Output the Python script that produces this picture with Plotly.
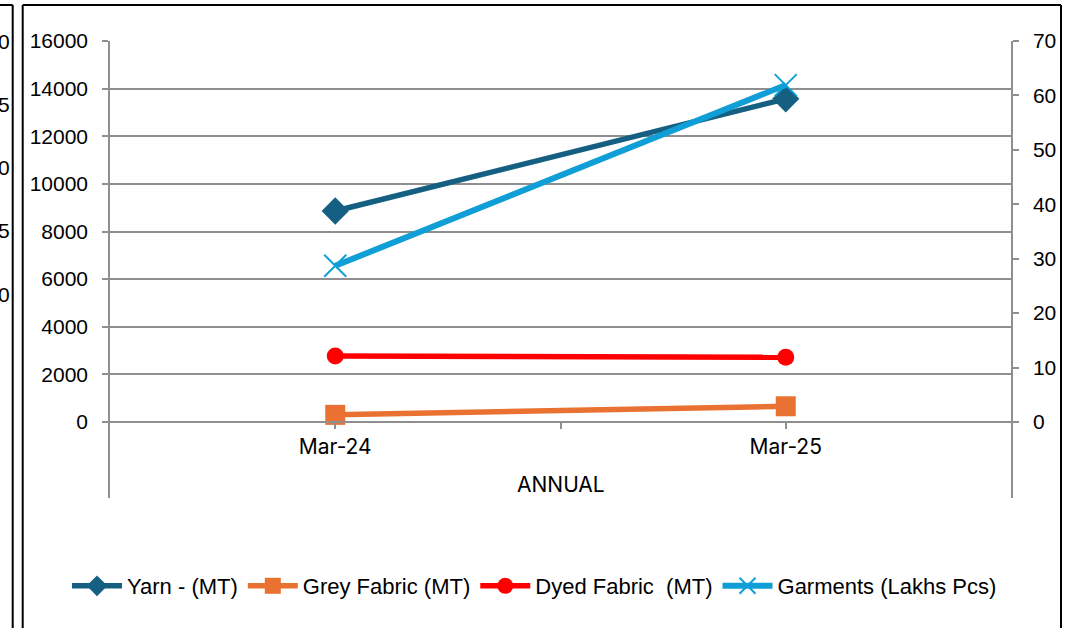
import plotly.graph_objects as go

# data
periods = ["Mar-24", "Mar-25"]
yarn_mt = [8860, 13570]
grey_fabric_mt = [300, 660]
dyed_fabric_mt = [2770, 2720]
garments_lakhs = [28.7, 61.9]

left_ticks = list(range(0, 16001, 2000))
right_ticks = list(range(0, 71, 10))
cut_off_labels = ["0", "5", "0", "5", "0"]  # last digits of a neighbouring chart's axis

GRID = "#8f8f8f"
FONT = "Liberation Sans"

# plot box in pixels: left 110, right 1011, top 41, bottom 498; zero line at 422
L, R, T, B = 110, 1011, 41, 498
ZERO_PX = 422
W, H = R - L, B - T
lo_left = -(B - ZERO_PX) / (ZERO_PX - T) * 16000
lo_right = lo_left * 70 / 16000

x = [0, 1]

fig = go.Figure()

fig.add_trace(go.Scatter(
    x=x, y=yarn_mt, name="Yarn - (MT)", mode="lines+markers",
    line=dict(color="#156082", width=5.5),
    marker=dict(symbol="diamond", size=21, color="#156082"),
))
fig.add_trace(go.Scatter(
    x=x, y=grey_fabric_mt, name="Grey Fabric (MT)", mode="lines+markers",
    line=dict(color="#E97132", width=5.5),
    marker=dict(symbol="square", size=20, color="#E97132"),
))
fig.add_trace(go.Scatter(
    x=x, y=dyed_fabric_mt, name="Dyed Fabric\u00a0 (MT)", mode="lines+markers",
    line=dict(color="#FF0000", width=5.5),
    marker=dict(symbol="circle", size=17, color="#FF0000"),
))
fig.add_trace(go.Scatter(
    x=x, y=garments_lakhs, name="Garments (Lakhs Pcs)", mode="lines+markers",
    yaxis="y2",
    line=dict(color="#0F9ED5", width=6),
    marker=dict(symbol="x-thin-open", size=22, color="#0F9ED5",
                line=dict(color="#0F9ED5", width=2)),
))

shapes = []
def px_x(p):
    return (p - L) / W

def px_y(p):
    return (B - p) / H

# outer frame lines of the screenshot
for xp in (12.7, 22.7, 1061):
    shapes.append(dict(type="line", xref="paper", yref="paper",
                       x0=px_x(xp), x1=px_x(xp), y0=px_y(5), y1=px_y(640),
                       line=dict(color="black", width=2)))
shapes.append(dict(type="line", xref="paper", yref="paper",
                   x0=px_x(-10), x1=px_x(12.7), y0=px_y(5), y1=px_y(5),
                   line=dict(color="black", width=2)))
shapes.append(dict(type="line", xref="paper", yref="paper",
                   x0=px_x(22.7), x1=px_x(1061), y0=px_y(5), y1=px_y(5),
                   line=dict(color="black", width=2)))

annotations = []
for i, txt in enumerate(cut_off_labels):
    annotations.append(dict(text=txt, xref="paper", yref="paper",
                            x=px_x(12), y=px_y(41 + i * 63.3),
                            xanchor="right", yanchor="middle", showarrow=False,
                            font=dict(family=FONT, size=21, color="black")))
annotations.append(dict(text="ANNUAL", xref="paper", yref="paper",
                        x=0.5, y=px_y(484), xanchor="center", yanchor="middle",
                        showarrow=False,
                        font=dict(family="Inter", size=21, color="black")))

fig.update_layout(
    width=1068, height=628,
    margin=dict(l=L, r=1068 - R, t=T, b=628 - B, autoexpand=False),
    paper_bgcolor="white",
    plot_bgcolor="white",
    font=dict(family=FONT, size=21, color="black"),
    showlegend=True,
    legend=dict(
        orientation="h",
        x=px_x(67), xanchor="left",
        y=px_y(586), yanchor="middle",
        font=dict(family=FONT, size=22, color="black"),
        itemwidth=50, tracegroupgap=0,
    ),
    xaxis=dict(
        range=[-0.5, 1.5],
        tickvals=[0, 0.5, 1], ticktext=[periods[0], "", periods[1]],
        anchor="free", position=px_y(ZERO_PX),
        showline=True, linecolor=GRID, linewidth=1.5,
        ticks="outside", ticklen=6, tickcolor=GRID, tickwidth=1.5,
        showgrid=False, zeroline=False,
        tickfont=dict(family="Inter", size=21),
    ),
    yaxis=dict(
        range=[lo_left, 16000], tickvals=left_ticks, tickformat="d",
        showgrid=True, gridcolor=GRID, gridwidth=1.5,
        showline=True, linecolor=GRID, linewidth=1.5,
        ticks="outside", ticklen=6, tickcolor=GRID, tickwidth=1.5,
        zeroline=False, ticklabelstandoff=10,
    ),
    yaxis2=dict(
        range=[lo_right, 70], tickvals=right_ticks, tickformat="d",
        overlaying="y", side="right",
        showgrid=False, zeroline=False,
        showline=True, linecolor=GRID, linewidth=1.5,
        ticks="outside", ticklen=6, tickcolor=GRID, tickwidth=1.5,
        ticklabelstandoff=10,
    ),
    shapes=shapes,
    annotations=annotations,
)

fig.write_html("out.html", config={"displayModeBar": False},
               post_script="document.body.style.margin='0';")
